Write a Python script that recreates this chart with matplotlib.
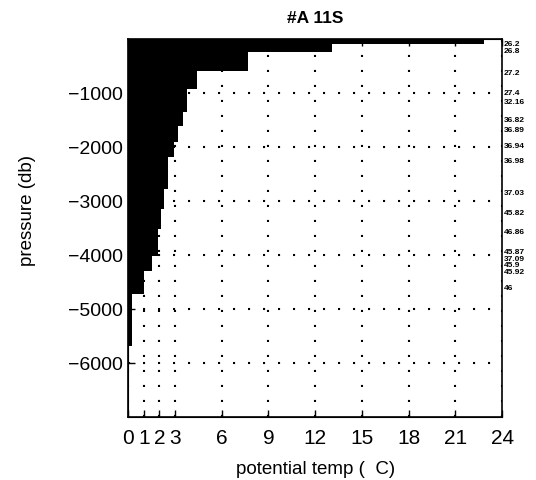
import matplotlib
matplotlib.use("Agg")
import matplotlib.pyplot as plt

plt.rcParams['font.family'] = ['Liberation Sans', 'DejaVu Sans']
plt.rcParams['lines.scale_dashes'] = False

# profile: top of each layer (db) and potential temp in that layer (C)
pressure = [0, -93, -240, -593, -926, -1352, -1611, -1907, -2185, -2778,
            -3148, -3519, -4019, -4296, -4722, -5685]
theta = [22.8, 13.1, 7.7, 4.4, 3.8, 3.5, 3.2, 2.95, 2.57, 2.3,
         2.1, 1.93, 1.55, 1.0, 0.25, 0.25]

# density labels down the right hand side
sigma_p = [-70, -200, -609, -978, -1144, -1476, -1661, -1956, -2232, -2823,
           -3192, -3542, -3915, -4040, -4160, -4290, -4576]
sigma_lab = ['26.2', '26.8', '27.2', '27.4', '32.16', '36.82', '36.89', '36.94',
             '36.98', '37.03', '45.82', '46.86', '45.87', '37.09', '45.9', '45.92', '46']

xticks = [0, 1, 2, 3, 6, 9, 12, 15, 18, 21, 24]
yticks = [-6000, -5000, -4000, -3000, -2000, -1000]

fig = plt.figure(figsize=(5.36, 4.81), dpi=100)
ax = fig.add_axes([0.239, 0.131, 0.698, 0.786])

ax.fill_betweenx(pressure, 0, theta, step='post', color='black', linewidth=0)

ax.set_xlim(0, 24)
ax.set_ylim(-7000, 0)
ax.set_xticks(xticks)
ax.set_yticks(yticks)
ax.set_yticklabels(['\u22126000', '\u22125000', '\u22124000', '\u22123000',
                    '\u22122000', '\u22121000'])
ax.tick_params(direction='in', length=5, width=1, top=True, right=True)
ax.tick_params(axis='x', pad=8, labelsize=15)
ax.tick_params(axis='y', pad=4, labelsize=14)
ax.xaxis.grid(True, color='black', linestyle=(0, (1.5, 9.3)), linewidth=1.5)
ax.yaxis.grid(True, color='black', linestyle=(0, (1.5, 9.3)), linewidth=1.5)
ax.set_axisbelow(False)
for s in ax.spines.values():
    s.set_linewidth(1.2)

ax.set_xlabel('potential temp (  C)', fontsize=13.5)
ax.xaxis.set_label_coords(0.5, -0.115)
ax.set_ylabel('pressure (db)', fontsize=13.5)
ax.yaxis.set_label_coords(-0.245, 0.55)
ax.set_title('#A 11S', fontsize=12.5, fontweight='bold', pad=12)

ax2 = ax.twinx()
ax2.set_ylim(-7000, 0)
ax2.set_yticks(sigma_p)
ax2.set_yticklabels(sigma_lab)
ax2.tick_params(length=0, pad=1, labelsize=6)
for t in ax2.get_yticklabels():
    t.set_fontweight('bold')
ax2.spines['right'].set_visible(False)

fig.savefig('out.png', dpi=100)
